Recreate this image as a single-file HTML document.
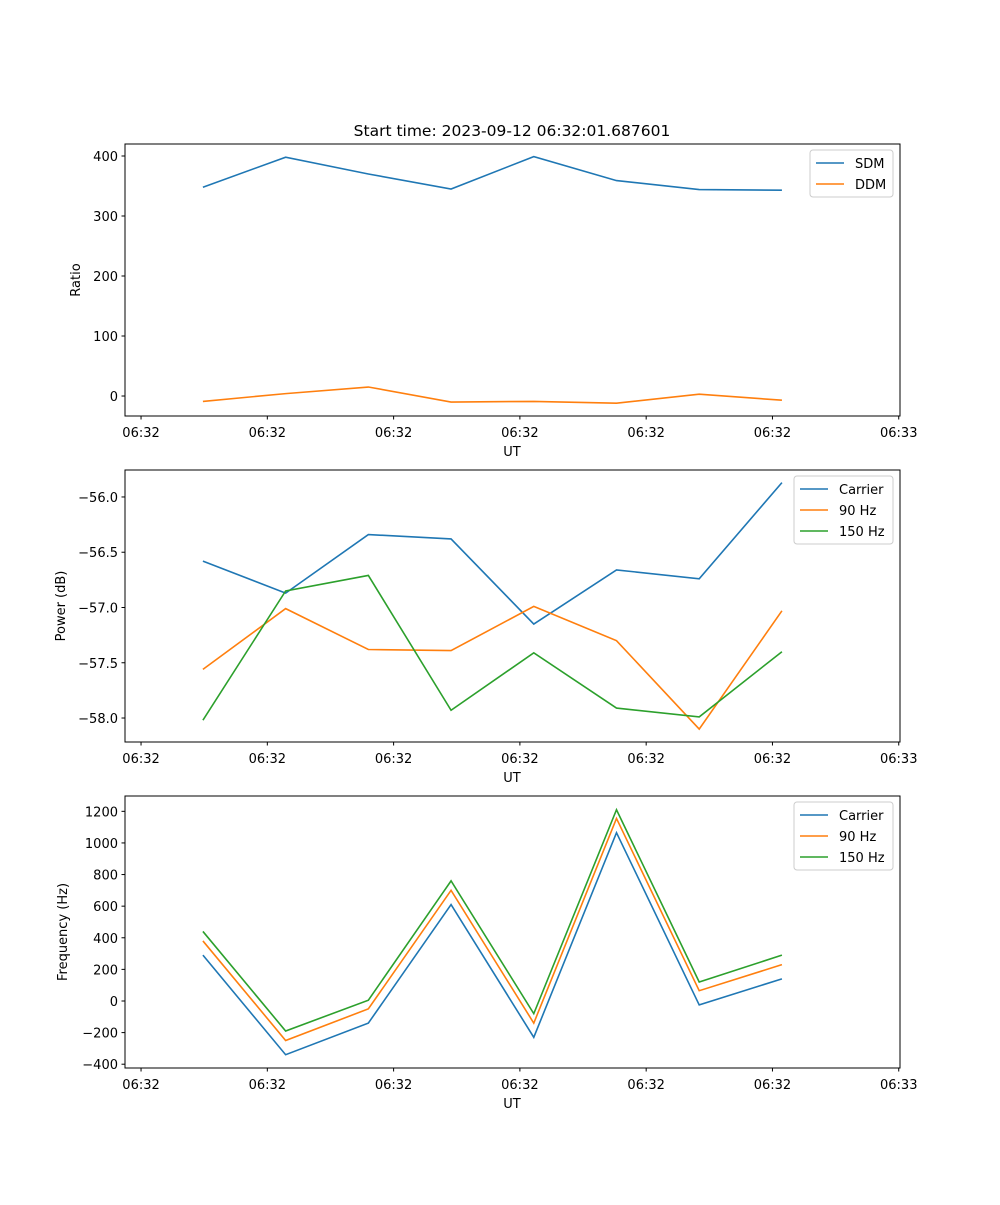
<!DOCTYPE html>
<html><head><meta charset="utf-8"><style>
body{margin:0;background:#fff;}
svg text{font-family:"DejaVu Sans","Liberation Sans",sans-serif;font-size:13px;fill:#000;}
</style></head><body>
<svg id="fig" width="1000" height="1200" xmlns="http://www.w3.org/2000/svg">
<rect width="1000" height="1200" fill="#fff"/>
<text x="512" y="136" text-anchor="middle" style="font-size:15.5px">Start time: 2023-09-12 06:32:01.687601</text>
</svg>
<script>
const times = [4.9, 11.45, 18.0, 24.55, 31.1, 37.65, 44.2, 50.75];
const xTicks = [0, 10, 20, 30, 40, 50, 60];
const xTickLabels = ["06:32","06:32","06:32","06:32","06:32","06:32","06:33"];
const sdm = [348, 398, 370, 345, 399, 359, 344, 343];
const ddm = [-9, 4, 15, -10, -9, -12, 3, -7];
const powCarrier = [-56.58, -56.87, -56.34, -56.38, -57.15, -56.66, -56.74, -55.87];
const pow90 = [-57.56, -57.01, -57.38, -57.39, -56.99, -57.30, -58.10, -57.03];
const pow150 = [-58.02, -56.85, -56.71, -57.93, -57.41, -57.91, -57.99, -57.40];
const freqCarrier = [290, -340, -140, 610, -230, 1065, -25, 140];
const freq90 = [380, -250, -50, 700, -140, 1155, 65, 230];
const freq150 = [440, -190, 5, 760, -80, 1210, 120, 290];
const ratioTicks = [0, 100, 200, 300, 400];
const powTicks = [-58.0, -57.5, -57.0, -56.5, -56.0];
const freqTicks = [-400, -200, 0, 200, 400, 600, 800, 1000, 1200];

const NS = "http://www.w3.org/2000/svg";
const svg = document.getElementById('fig');
function mk(tag, attrs, parent){const e=document.createElementNS(NS,tag);for(const k in attrs)e.setAttribute(k,attrs[k]);(parent||svg).appendChild(e);return e;}
const X0=125,X1=900,TMIN=-1.27,TMAX=60.1;
const xs=t=>X0+(t-TMIN)/(TMAX-TMIN)*(X1-X0);

function panel(name, top, ymin, ymax, yticks, fmt, ylabel, ylabelX, series, legendW){
  const bot=top+272;
  const ys=v=>bot-(v-ymin)/(ymax-ymin)*272;
  const g=mk('g',{});
  
  
  series.forEach(s=>{
    const p=mk('polyline',{points:s.data.map((v,i)=>xs(times[i])+','+ys(v)).join(' '),fill:'none',stroke:s.color,'stroke-width':1.6},g);
    
    
  });
  const fr=mk('rect',{x:X0,y:top,width:X1-X0,height:272,fill:'none',stroke:'#000','stroke-width':1},g);
  
  
  xTicks.forEach((t,i)=>{
    const x=xs(t);
    mk('line',{x1:x,x2:x,y1:bot,y2:bot+3.5,stroke:'#000'},g);
    const tx=mk('text',{x:x,y:bot+21,'text-anchor':'middle'},g);tx.textContent=xTickLabels[i];
    
    
  });
  yticks.forEach(v=>{
    const y=ys(v);
    mk('line',{x1:X0-3.5,x2:X0,y1:y,y2:y,stroke:'#000'},g);
    const tx=mk('text',{x:X0-7,y:y+5,'text-anchor':'end'},g);tx.textContent=fmt(v);
    
    
  });
  const xl=mk('text',{x:512,y:bot+40,'text-anchor':'middle'},g);xl.textContent='UT';
  
  
  const yl=mk('text',{x:0,y:0,'text-anchor':'middle',transform:`translate(${ylabelX},${top+136}) rotate(-90)`},g);yl.textContent=ylabel;
  
  
  const lx=893-legendW, ly=top+6;
  const lg=mk('g',{},g);
  
  
  mk('rect',{x:lx,y:ly,width:legendW,height:series.length*21+5,rx:3,fill:'#fff',stroke:'#ccc'},lg);
  series.forEach((s,i)=>{
    const yy=ly+13+i*21;
    mk('line',{x1:lx+6,x2:lx+34,y1:yy,y2:yy,stroke:s.color,'stroke-width':1.6},lg);
    const t=mk('text',{x:lx+45,y:yy+5},lg);t.textContent=s.label;
    
    
  });
}
const minus=s=>s.replace('-','\u2212');
panel('ratio-panel',144,-33.3,420,ratioTicks,v=>minus(String(v)),'Ratio',80,[
  {id:'sdm',label:'SDM',data:sdm,color:'#1f77b4'},{id:'ddm',label:'DDM',data:ddm,color:'#ff7f0e'}],83);
panel('power-panel',470,-58.217,-55.756,powTicks,v=>minus(v.toFixed(1)),'Power (dB)',65,[
  {id:'carrier',label:'Carrier',data:powCarrier,color:'#1f77b4'},{id:'90hz',label:'90 Hz',data:pow90,color:'#ff7f0e'},{id:'150hz',label:'150 Hz',data:pow150,color:'#2ca02c'}],99);
panel('frequency-panel',796,-424,1297,freqTicks,v=>minus(String(v)),'Frequency (Hz)',67,[
  {id:'carrier',label:'Carrier',data:freqCarrier,color:'#1f77b4'},{id:'90hz',label:'90 Hz',data:freq90,color:'#ff7f0e'},{id:'150hz',label:'150 Hz',data:freq150,color:'#2ca02c'}],99);
</script>
</body></html>
